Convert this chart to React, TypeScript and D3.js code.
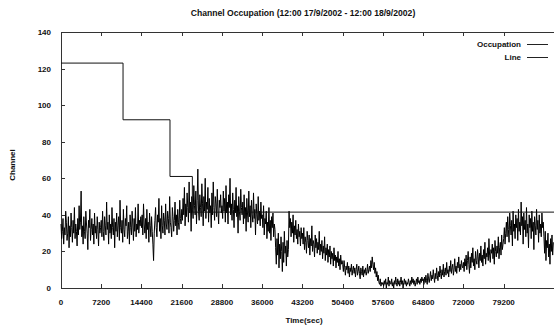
import React, { useEffect, useRef } from 'react';
import * as d3 from 'd3';

// sampling step of the occupation series (seconds)
const STEP = 120;

// channel occupation, one value per STEP seconds (one array per 2 hours)
const occupation0 = [35, 27, 31, 38, 24, 33, 29, 42, 36, 26, 30, 39, 22, 34, 28, 41, 33, 25, 37, 30, 44, 27, 35, 31, 23, 38, 29, 45, 32, 36,
    53, 28, 34, 24, 39, 31, 27, 42, 35, 30, 21, 37, 33, 43, 26, 32, 38, 29, 35, 24, 41, 30, 34, 27, 39, 32, 23, 36, 30, 33];
const occupation1 = [37, 28, 42, 31, 26, 39, 34, 29, 47, 32, 36, 24, 40, 30, 35, 27, 44, 33, 29, 38, 22, 36, 31, 41, 28, 34, 39, 26, 48, 33,
    30, 37, 25, 43, 32, 28, 38, 34, 45, 27, 31, 36, 24, 40, 33, 29, 42, 35, 26, 38, 31, 44, 28, 35, 32, 46, 30, 37, 34, 39];
const occupation2 = [33, 40, 29, 46, 35, 30, 38, 27, 43, 32, 36, 25, 41, 34, 28, 39, 31, 24, 15, 30, 37, 44, 33, 28, 40, 36, 49, 31, 38, 27,
    45, 34, 30, 41, 37, 29, 46, 35, 32, 42, 38, 30, 50, 36, 33, 28, 44, 39, 31, 37, 47, 34, 40, 29, 43, 36, 32, 48, 38, 35];
const occupation3 = [43, 37, 49, 40, 55, 34, 46, 39, 52, 44, 36, 58, 41, 47, 31, 50, 43, 38, 56, 45, 40, 53, 35, 48, 65, 42, 37, 51, 44, 39,
    57, 46, 34, 50, 42, 60, 38, 47, 43, 55, 36, 49, 41, 45, 33, 52, 40, 58, 44, 37, 50, 46, 39, 54, 42, 35, 48, 44, 51, 41];
const occupation4 = [45, 38, 53, 42, 49, 36, 56, 41, 47, 35, 51, 44, 60, 40, 46, 37, 52, 43, 33, 48, 41, 55, 39, 45, 30, 50, 42, 37, 54, 44,
    40, 47, 35, 51, 38, 44, 31, 49, 41, 36, 53, 39, 45, 33, 48, 40, 36, 52, 38, 43, 29, 46, 40, 35, 50, 37, 42, 34, 47, 38];
const occupation5 = [40, 33, 45, 29, 38, 35, 42, 27, 36, 31, 44, 30, 37, 26, 39, 33, 41, 28, 35, 32,
    22, 13, 27, 18, 30, 11, 24, 16, 28, 20, 9, 25, 14, 31, 19, 23, 12, 26, 17, 21,
    42, 33, 38, 28, 36, 30, 40, 25, 34, 29, 37, 27, 32, 24, 35, 28, 31, 23, 33, 27];
const occupation6 = [30, 24, 33, 21, 28, 25, 19, 31, 26, 22, 29, 18, 27, 23, 34, 20, 26, 24, 17, 29,
    22, 27, 19, 25, 21, 31, 18, 24, 20, 26, 16, 23, 19, 28, 15, 22, 18, 24, 14, 21,
    17, 23, 13, 20, 16, 19, 12, 22, 15, 18, 11, 17, 14, 20, 12, 16, 10, 18, 13, 15];
const occupation7 = [13, 9, 15, 11, 7, 12, 10, 14, 8, 12, 6, 11, 9, 13, 7, 10, 12, 8, 11, 6,
    10, 13, 7, 9, 12, 8, 5, 11, 9, 7, 12, 6, 10, 8, 11, 7, 9, 13, 8, 10,
    12, 9, 15, 11, 17, 13, 10, 14, 8, 11, 6, 9, 4, 7, 3, 2, 5, 1, 3, 2];
const occupation8 = [3, 1, 4, 2, 5, 0, 3, 2, 6, 1, 4, 3, 2, 5, 1, 3, 0, 4, 2, 6,
    3, 1, 5, 2, 4, 1, 3, 6, 2, 4, 0, 3, 5, 2, 4, 1, 3, 2, 5, 3,
    1, 4, 2, 6, 3, 5, 2, 4, 1, 3, 5, 2, 6, 3, 4, 2, 5, 3, 6, 4];
const occupation9 = [5, 2, 6, 3, 7, 4, 2, 8, 5, 3, 6, 9, 4, 7, 5, 10, 6, 3, 8, 5,
    11, 7, 4, 9, 6, 12, 8, 5, 10, 7, 13, 6, 9, 11, 7, 14, 8, 10, 6, 12,
    9, 15, 8, 11, 13, 7, 10, 16, 9, 12, 8, 14, 11, 17, 9, 13, 10, 15, 12, 11];
const occupation10 = [14, 9, 16, 12, 18, 10, 15, 20, 13, 8, 17, 11, 19, 14, 22, 12, 16, 10, 20, 15,
    13, 21, 17, 11, 19, 15, 23, 14, 18, 12, 21, 16, 25, 13, 19, 17, 22, 15, 27, 18,
    14, 21, 19, 24, 16, 22, 13, 26, 20, 17, 23, 19, 28, 16, 22, 25, 18, 29, 21, 24];
const occupation11 = [27, 33, 24, 30, 36, 28, 39, 32, 25, 41, 34, 29, 37, 23, 42, 31, 35, 27, 40, 33,
    38, 26, 43, 31, 36, 29, 47, 34, 39, 24, 41, 32, 37, 28, 44, 30, 35, 22, 40, 33,
    38, 27, 42, 31, 36, 21, 39, 34, 29, 43, 32, 37, 25, 40, 30, 35, 28, 41, 33, 36];
const occupation12 = [28, 19, 31, 15, 26, 22, 30, 17, 24, 13, 27, 20, 29, 18, 25];

// the "Line" step function
const lineTimes = [0, 11100, 19500, 23500, 88200];
const lineValues = [123, 92, 61, 41.5, 41.5];

const xTicks = [0, 7200, 14400, 21600, 28800, 36000, 43200, 50400, 57600, 64800, 72000, 79200];
const yTicks = [0, 20, 40, 60, 80, 100, 120, 140];

const occupation = [
    ...occupation0, ...occupation1, ...occupation2, ...occupation3, ...occupation4, ...occupation5,
    ...occupation6, ...occupation7, ...occupation8, ...occupation9, ...occupation10, ...occupation11, ...occupation12,
];

const App = () => {
    const svgRef = useRef<SVGSVGElement>(null);

    useEffect(() => {
        const width = 554;
        const height = 327;
        const left = 61, right = 554, top = 32, bottom = 288;
        const font = '"Liberation Sans", Arial, sans-serif';

        const svg = d3.select(svgRef.current);
        svg.selectAll('*').remove();
        svg.attr('width', width).attr('height', height);

        const x = d3.scaleLinear().domain([0, 88200]).range([left, right]);
        const y = d3.scaleLinear().domain([0, 140]).range([bottom, top]);

        const label = (sel: any, size = '8px') => sel
            .style('font-family', font)
            .style('font-size', size)
            .style('font-weight', 'bold')
            .attr('fill', '#111');

        // frame
        svg.append('path')
            .attr('d', `M${right + 5},${top + 0.5}H${left + 0.5}V${bottom + 0.5}H${right + 5}`)
            .attr('fill', 'none')
            .attr('stroke', '#333')
            .attr('stroke-width', 1);

        // x ticks (bottom and mirrored on top)
        xTicks.forEach(t => {
            const px = Math.round(x(t)) + 0.5;
            svg.append('line').attr('x1', px).attr('x2', px).attr('y1', bottom).attr('y2', bottom - 4)
                .attr('stroke', '#333');
            svg.append('line').attr('x1', px).attr('x2', px).attr('y1', top).attr('y2', top + 4)
                .attr('stroke', '#333');
            label(svg.append('text')
                .attr('x', x(t))
                .attr('y', 305)
                .attr('text-anchor', 'middle'))
                .text(t);
        });

        yTicks.forEach(t => {
            const py = Math.round(y(t)) + 0.5;
            svg.append('line').attr('x1', left).attr('x2', left + 4).attr('y1', py).attr('y2', py)
                .attr('stroke', '#333');
            label(svg.append('text')
                .attr('x', 51)
                .attr('y', y(t) + 3)
                .attr('text-anchor', 'end'))
                .text(t);
        });

        // occupation series
        const line = d3.line<number>()
            .x((d, i) => x(i * STEP))
            .y(d => y(d));

        svg.append('path')
            .datum(occupation)
            .attr('d', line)
            .attr('fill', 'none')
            .attr('stroke', '#000')
            .attr('stroke-width', 1);

        // step line
        const stepLine = d3.line<number>()
            .x((d, i) => x(lineTimes[i]))
            .y(d => y(d))
            .curve(d3.curveStepAfter);

        svg.append('path')
            .datum(lineValues)
            .attr('d', stepLine)
            .attr('fill', 'none')
            .attr('stroke', '#111')
            .attr('stroke-width', 1);

        // legend
        const legend = [{ name: 'Occupation', y: 44 }, { name: 'Line', y: 57 }];
        legend.forEach(item => {
            label(svg.append('text')
                .attr('x', 521)
                .attr('y', item.y + 3)
                .attr('text-anchor', 'end'))
                .text(item.name);
            svg.append('line')
                .attr('x1', 527).attr('x2', 548)
                .attr('y1', item.y + 0.5).attr('y2', item.y + 0.5)
                .attr('stroke', '#222');
        });

        // title and axis labels
        label(svg.append('text')
            .attr('x', 303)
            .attr('y', 16)
            .attr('text-anchor', 'middle'), '8.6px')
            .text('Channel Occupation (12:00 17/9/2002 - 12:00 18/9/2002)');

        label(svg.append('text')
            .attr('x', 304)
            .attr('y', 323)
            .attr('text-anchor', 'middle'))
            .text('Time(sec)');

        label(svg.append('text')
            .attr('transform', 'translate(15,165) rotate(-90)')
            .attr('text-anchor', 'middle'))
            .text('Channel');
    }, []);

    return (
        <svg ref={svgRef} style={{ position: 'absolute', left: 0, top: 0, background: '#fff' }}></svg>
    );
};

export default App;
